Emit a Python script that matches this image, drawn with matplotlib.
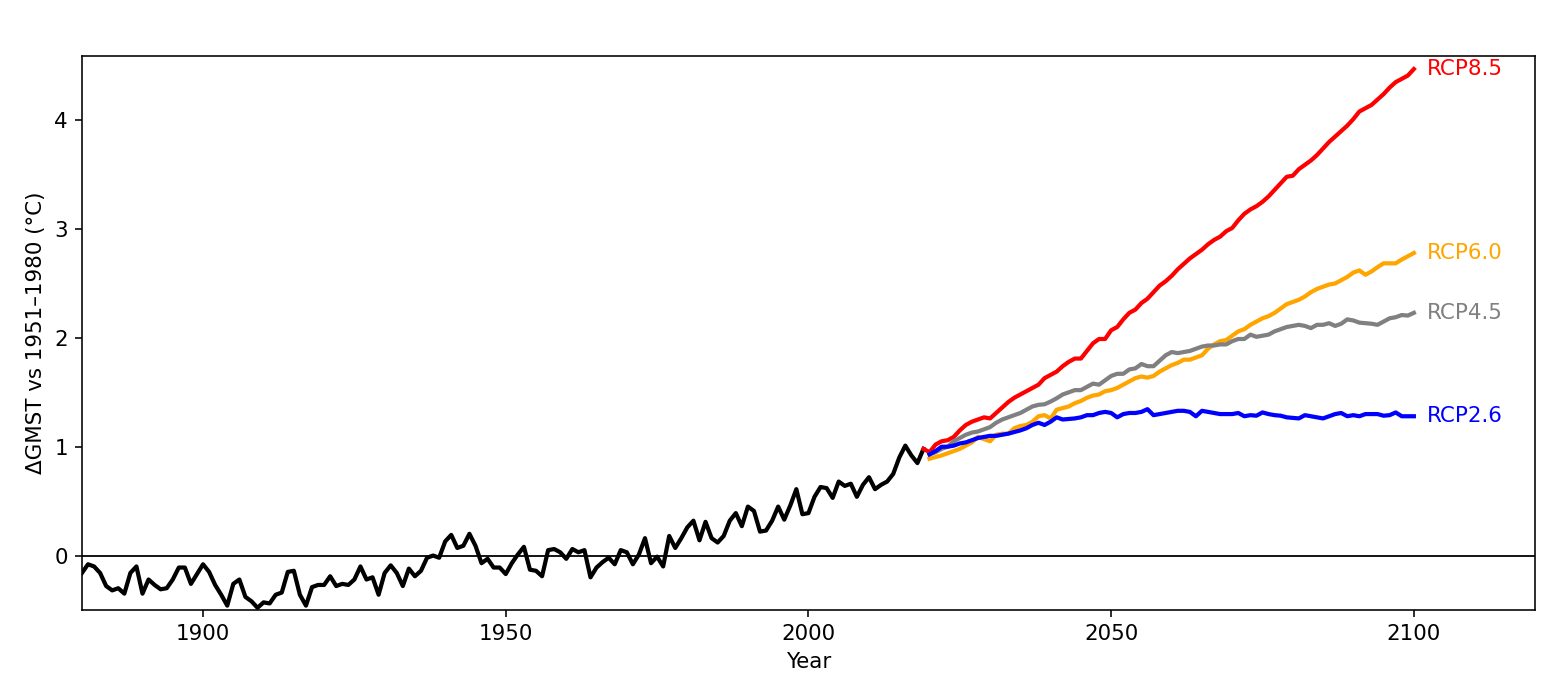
import matplotlib
matplotlib.use("Agg")
import matplotlib.pyplot as plt
import numpy as np

# Observed GMST anomaly (vs 1951-1980), 1880-2019
hist_years = list(range(1880, 2020))
hist_vals = [
    -0.16, -0.08, -0.10, -0.16, -0.28, -0.32, -0.30, -0.35, -0.16, -0.10,
    -0.35, -0.22, -0.27, -0.31, -0.30, -0.22, -0.11, -0.11, -0.26, -0.17,
    -0.08, -0.15, -0.27, -0.36, -0.46, -0.26, -0.22, -0.38, -0.42, -0.48,
    -0.43, -0.44, -0.36, -0.34, -0.15, -0.14, -0.36, -0.46, -0.29, -0.27,
    -0.27, -0.19, -0.28, -0.26, -0.27, -0.22, -0.10, -0.22, -0.20, -0.36,
    -0.16, -0.09, -0.16, -0.28, -0.12, -0.19, -0.14, -0.02, -0.00, -0.02,
    0.13, 0.19, 0.07, 0.09, 0.20, 0.09, -0.07, -0.03, -0.11, -0.11,
    -0.17, -0.07, 0.01, 0.08, -0.13, -0.14, -0.19, 0.05, 0.06, 0.03,
    -0.03, 0.06, 0.03, 0.05, -0.20, -0.11, -0.06, -0.02, -0.08, 0.05,
    0.03, -0.08, 0.01, 0.16, -0.07, -0.01, -0.10, 0.18, 0.07, 0.16,
    0.26, 0.32, 0.14, 0.31, 0.16, 0.12, 0.18, 0.32, 0.39, 0.27,
    0.45, 0.41, 0.22, 0.23, 0.32, 0.45, 0.33, 0.46, 0.61, 0.38,
    0.39, 0.54, 0.63, 0.62, 0.53, 0.68, 0.64, 0.66, 0.54, 0.65,
    0.72, 0.61, 0.65, 0.68, 0.75, 0.90, 1.01, 0.92, 0.85, 0.98,
]

# RCP projections
rcp85_years = list(range(2019, 2101))
rcp85_vals = [
    0.98, 0.95, 1.02, 1.05, 1.06, 1.09, 1.15, 1.20, 1.23, 1.25,
    1.27, 1.26, 1.31, 1.36, 1.41, 1.45, 1.48, 1.51, 1.54, 1.57,
    1.63, 1.66, 1.69, 1.74, 1.78, 1.81, 1.81, 1.88, 1.95, 1.99,
    1.99, 2.07, 2.10, 2.17, 2.23, 2.26, 2.32, 2.36, 2.42, 2.48,
    2.52, 2.57, 2.63, 2.68, 2.73, 2.77, 2.81, 2.86, 2.90, 2.93,
    2.98, 3.01, 3.08, 3.14, 3.18, 3.21, 3.25, 3.30, 3.36, 3.42,
    3.48, 3.49, 3.55, 3.59, 3.63, 3.68, 3.74, 3.80, 3.85, 3.90,
    3.95, 4.01, 4.08, 4.11, 4.14, 4.19, 4.24, 4.30, 4.35, 4.38,
    4.41, 4.47,
]

proj_years = list(range(2020, 2101))
rcp60_vals = [
    0.89, 0.905, 0.92, 0.94, 0.96, 0.98, 1.01, 1.04, 1.09, 1.07,
    1.05, 1.11, 1.12, 1.12, 1.17, 1.19, 1.20, 1.23, 1.28, 1.29,
    1.26, 1.34, 1.355, 1.37, 1.40, 1.42, 1.45, 1.47, 1.48, 1.51,
    1.52, 1.54, 1.57, 1.60, 1.63, 1.645, 1.635, 1.65, 1.69, 1.72,
    1.75, 1.77, 1.80, 1.80, 1.82, 1.84, 1.90, 1.94, 1.97, 1.98,
    2.02, 2.06, 2.08, 2.12, 2.15, 2.18, 2.20, 2.23, 2.27, 2.31,
    2.33, 2.35, 2.38, 2.42, 2.45, 2.47, 2.49, 2.50, 2.53, 2.56,
    2.60, 2.62, 2.58, 2.61, 2.65, 2.685, 2.685, 2.685, 2.72, 2.75,
    2.78,
]
rcp45_vals = [
    0.93, 0.95, 0.98, 1.00, 1.05, 1.08, 1.11, 1.13, 1.14, 1.16,
    1.18, 1.22, 1.25, 1.27, 1.29, 1.31, 1.34, 1.37, 1.385, 1.39,
    1.415, 1.445, 1.48, 1.50, 1.52, 1.52, 1.55, 1.58, 1.57, 1.61,
    1.65, 1.67, 1.67, 1.71, 1.72, 1.76, 1.74, 1.74, 1.79, 1.84,
    1.87, 1.86, 1.87, 1.88, 1.90, 1.92, 1.93, 1.93, 1.94, 1.94,
    1.97, 1.99, 1.99, 2.03, 2.01, 2.02, 2.03, 2.06, 2.08, 2.10,
    2.11, 2.12, 2.11, 2.09, 2.12, 2.12, 2.135, 2.11, 2.13, 2.17,
    2.16, 2.14, 2.135, 2.13, 2.12, 2.15, 2.18, 2.19, 2.21, 2.205,
    2.23,
]
rcp26_vals = [
    0.93, 0.96, 1.00, 1.00, 1.01, 1.03, 1.04, 1.06, 1.08, 1.09,
    1.10, 1.10, 1.11, 1.12, 1.135, 1.15, 1.17, 1.20, 1.22, 1.20,
    1.23, 1.27, 1.25, 1.255, 1.26, 1.27, 1.29, 1.29, 1.31, 1.32,
    1.31, 1.27, 1.30, 1.31, 1.31, 1.32, 1.345, 1.29, 1.30, 1.31,
    1.32, 1.33, 1.33, 1.32, 1.28, 1.33, 1.32, 1.31, 1.30, 1.30,
    1.30, 1.31, 1.28, 1.29, 1.285, 1.315, 1.30, 1.29, 1.285, 1.27,
    1.265, 1.26, 1.29, 1.28, 1.27, 1.26, 1.28, 1.30, 1.31, 1.28,
    1.29, 1.28, 1.30, 1.30, 1.30, 1.285, 1.29, 1.315, 1.28, 1.28,
    1.28,
]

scenario_names = ["RCP8.5", "RCP6.0", "RCP4.5", "RCP2.6"]
scenario_colors = ["red", "orange", "gray", "blue"]

DPI = 144
FS = 10.7
fig = plt.figure(figsize=(1555 / DPI, 700 / DPI), dpi=DPI)
ax = fig.add_axes([0.0527, 0.1286, 0.9344, 0.7914])

ax.axhline(0, color="black", linewidth=0.9)
ax.plot(hist_years, hist_vals, color="black", linewidth=2.1)

series = [
    (rcp85_years, rcp85_vals),
    (proj_years, rcp60_vals),
    (proj_years, rcp45_vals),
    (proj_years, rcp26_vals),
]
for (yrs, vals), name, col in zip(series, scenario_names, scenario_colors):
    ax.plot(yrs, vals, color=col, linewidth=2.1)
    ax.text(yrs[-1] + 2.1, vals[-1], name, color=col, fontsize=FS,
            ha="left", va="center")

ax.set_xlim(1880, 2120)
ax.set_ylim(-0.5, 4.59)
ax.set_xticks([1900, 1950, 2000, 2050, 2100])
ax.set_yticks([0, 1, 2, 3, 4])
ax.tick_params(labelsize=FS)
ax.set_xlabel("Year", fontsize=FS)
ax.set_ylabel("\u0394GMST vs 1951\u20131980 (\u00b0C)", fontsize=FS)

fig.savefig("out.png", dpi=DPI)
